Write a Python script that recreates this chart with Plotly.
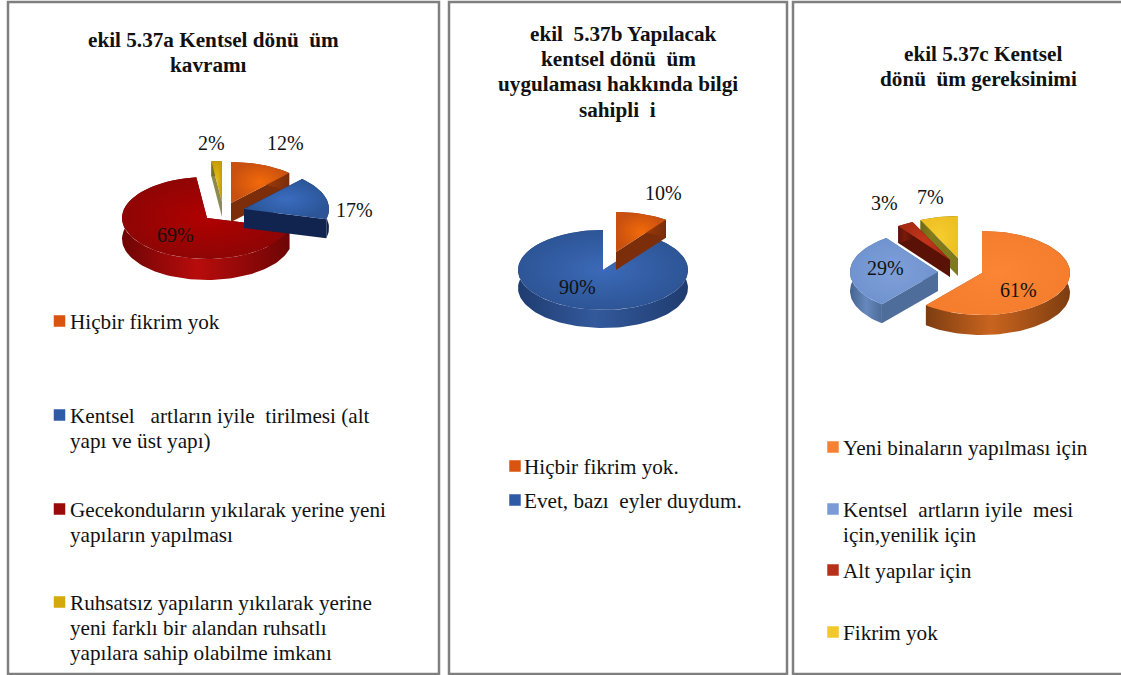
import math
import plotly.graph_objects as go

NB = "\u00a0"

# ---- data ----
a_title = ["ekil 5.37a Kentsel dönü" + NB + NB + "üm", "kavramı"]
a_categories = ["Hiçbir fikrim yok",
                "Kentsel" + NB + NB + NB + "artların iyile" + NB + NB + "tirilmesi (alt<br>yapı ve üst yapı)",
                "Gecekonduların yıkılarak yerine yeni<br>yapıların yapılması",
                "Ruhsatsız yapıların yıkılarak yerine<br>yeni farklı bir alandan ruhsatlı<br>yapılara sahip olabilme imkanı"]
a_values = [12, 17, 69, 2]

b_title = ["ekil" + NB + NB + "5.37b Yapılacak", "kentsel dönü" + NB + NB + "üm",
           "uygulaması hakkında bilgi", "sahipli" + NB + NB + "i"]
b_categories = ["Hiçbir fikrim yok.", "Evet, bazı" + NB + NB + "eyler duydum."]
b_values = [10, 90]

c_title = ["ekil 5.37c Kentsel", "dönü" + NB + NB + "üm gereksinimi"]
c_categories = ["Yeni binaların yapılması için",
                "Kentsel" + NB + NB + "artların iyile" + NB + NB + "mesi<br>için,yenilik için",
                "Alt yapılar için",
                "Fikrim yok"]
c_values = [61, 29, 3, 7]

# ---- styles: (top inner, top outer, rim light, rim dark, cut face) ----
ORANGE = ("#f26a0a", "#c9500f", "#a8400c", "#7a2c08", "#7c2e0a")
BLUE = ("#3a6cc0", "#2b5597", "#1c3566", "#0f2145", "#10244f")
RED = ("#b00000", "#8f0505", "#b80c0c", "#6e0505", "#5c0303")
YELLOW = ("#e8c015", "#c99a0a", "#8a7a20", "#6e6a30", "#8d8a50")
BLUE_B = ("#3c6ab8", "#2d5596", "#33599c", "#1f3c70", "#24457f")
C_ORANGE = ("#fb8534", "#f47d2e", "#c9641f", "#7d3d10", "#a8541a")
C_BLUE = ("#7f9fd8", "#7093cf", "#6688bd", "#45648f", "#4f6d9b")
C_RED = ("#c4351a", "#a92b14", "#7a1a0a", "#5a1206", "#5a1206")
C_YELLOW = ("#f6cd2e", "#eec024", "#8f8420", "#6f6a18", "#7f7a1c")

SWATCH_A = ["#d9540f", "#2f5aa5", "#9a0a0a", "#d3a90c"]
SWATCH_B = ["#d9540f", "#2f5aa5"]
SWATCH_C = ["#f58233", "#7a9bd6", "#b8301a", "#f2c82c"]

fig = go.Figure()


def poly(xs, ys, fill=None, gradient=None):
    kw = dict(x=xs, y=ys, mode="lines", fill="toself", line=dict(width=0),
              hoverinfo="skip", showlegend=False)
    if gradient:
        kw["fillgradient"] = gradient
        kw["fillcolor"] = gradient["colorscale"][0][1]
    else:
        kw["fillcolor"] = fill
    fig.add_trace(go.Scatter(**kw))


def draw_slice(apex, start, value, rx, ry, depth, style):
    cx, cy = apex
    a0 = 2 * math.pi * start / 100
    a1 = 2 * math.pi * (start + value) / 100
    n = max(4, int(value * 1.5))
    th = [a0 + (a1 - a0) * i / n for i in range(n + 1)]
    ax = [cx + rx * math.sin(t) for t in th]
    ay = [cy - ry * math.cos(t) for t in th]
    inner, outer, rim_l, rim_d, cut = style
    for px, py in ((ax[0], ay[0]), (ax[-1], ay[-1])):
        poly([cx, px, px, cx, cx], [cy, py, py + depth, cy + depth, cy], fill=cut)
    poly(ax + ax[::-1] + [ax[0]], ay + [y + depth for y in ay[::-1]] + [ay[0]],
         gradient=dict(type="horizontal",
                       colorscale=[[0, rim_d], [0.45, rim_l], [1, rim_d]]))
    poly([cx] + ax + [cx], [cy] + ay + [cy],
         gradient=dict(type="radial", colorscale=[[0, inner], [1, outer]]))


def pie(values, apexes, order, rx, ry, depth, styles):
    starts = [sum(values[:i]) for i in range(len(values))]
    for i in order:
        draw_slice(apexes[i], starts[i], values[i], rx, ry, depth[i], styles[i])


pie(a_values, [(231, 203), (244, 209), (207, 218), (222, 202)], [3, 2, 0, 1],
    85, 41, [19, 19, 21, 15], [ORANGE, BLUE, RED, YELLOW])
pie(b_values, [(616, 252), (603, 270)], [1, 0],
    85, 40, [18, 18], [ORANGE, BLUE_B])
pie(c_values, [(982, 273), (938, 272), (950, 260), (958, 258)], [3, 2, 1, 0],
    88, 42, [20, 19, 17, 18], [C_ORANGE, C_BLUE, C_RED, C_YELLOW])

ann = []


def text(x, y, s, size=21.2, bold=False, anchor="center"):
    if bold:
        s = "<b>" + s + "</b>"
    ann.append(dict(x=x, y=y, xref="x", yref="y", text=s, showarrow=False,
                    xanchor=anchor, yanchor="middle", align="left" if anchor == "left" else "center",
                    borderpad=0, borderwidth=0,
                    font=dict(family="Liberation Serif", size=size, color="#111111")))


# percentage labels
for v, (x, y) in zip(a_values, [(285, 143), (354, 210), (175, 235), (211, 143)]):
    text(x, y, f"{v}%", 20)
for v, (x, y) in zip(b_values, [(663, 193), (577, 287)]):
    text(x, y, f"{v}%", 20)
for v, (x, y) in zip(c_values, [(1018, 290), (885, 268), (884, 203), (930, 197)]):
    text(x, y, f"{v}%", 20)

# titles
for s, x, y in zip(a_title, [213, 208], [40, 65]):
    text(x, y, s, 21.2, True)
for s, x, y in zip(b_title, [623, 618, 618, 617], [34, 59, 84, 110]):
    text(x, y, s, 21.2, True)
for s, x, y in zip(c_title, [983, 978], [54, 79]):
    text(x, y, s, 21.2, True)


# legends: one line of text per annotation, with the source's 25px line pitch
def legend(cats, colors, sx, tx, ys):
    fig.add_trace(go.Scatter(x=[sx] * len(ys), y=[y - 1 for y in ys], mode="markers",
                             marker=dict(symbol="square", size=11.5, color=colors, line=dict(width=0)),
                             hoverinfo="skip", showlegend=False))
    for c, y in zip(cats, ys):
        for i, line in enumerate(c.split("<br>")):
            text(tx, y + i * 25, line, 21.2, False, "left")


legend(a_categories, SWATCH_A, 59.5, 70, [322, 416, 510, 603])
legend(b_categories, SWATCH_B, 515, 524, [467, 501])
legend(c_categories, SWATCH_C, 833, 843, [448, 510, 571, 633])

# panel frames
shapes = [dict(type="rect", xref="x", yref="y", x0=x0, x1=x1, y0=2, y1=674,
               line=dict(color="#7f7f7f", width=2.5), fillcolor="rgba(0,0,0,0)", layer="above")
          for x0, x1 in [(8, 439), (449, 787), (793, 1125)]]

fig.update_layout(
    width=1121, height=675,
    margin=dict(l=0, r=0, t=0, b=0),
    paper_bgcolor="white", plot_bgcolor="white",
    showlegend=False,
    xaxis=dict(range=[0, 1121], visible=False, fixedrange=True),
    yaxis=dict(range=[675, 0], visible=False, fixedrange=True),
    annotations=ann, shapes=shapes,
)

fig.write_html("out.html", post_script="document.body.style.margin='0';",
               config={"displayModeBar": False})
